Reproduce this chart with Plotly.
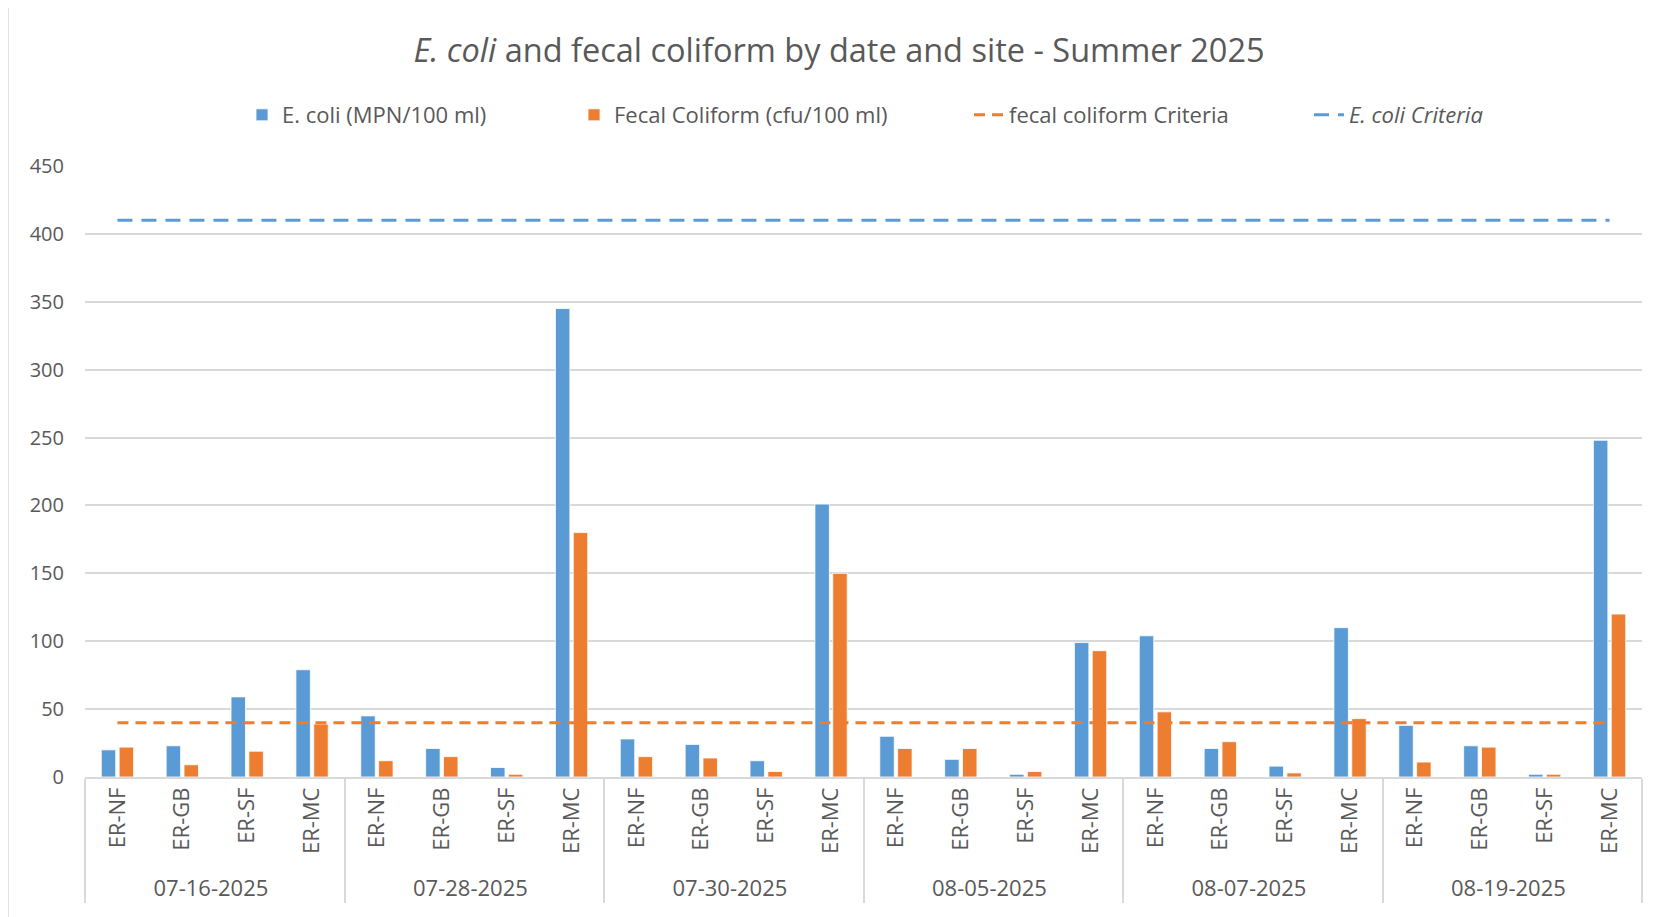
import plotly.graph_objects as go

dates = ["07-16-2025", "07-28-2025", "07-30-2025", "08-05-2025", "08-07-2025", "08-19-2025"]
sites = ["ER-NF", "ER-GB", "ER-SF", "ER-MC"]

ecoli = [20, 23, 59, 79,
         45, 21, 7, 345,
         28, 24, 12, 201,
         30, 13, 2, 99,
         104, 21, 8, 110,
         38, 23, 2, 248]
fecal = [22, 9, 19, 39,
         12, 15, 2, 180,
         15, 14, 4, 150,
         21, 21, 4, 93,
         48, 26, 3, 43,
         11, 22, 2, 120]

FECAL_CRITERIA = 40
ECOLI_CRITERIA = 410

y_ticks = [0, 50, 100, 150, 200, 250, 300, 350, 400, 450]

outer = [d for d in dates for _ in sites]
inner = [s for _ in dates for s in sites]
x = [outer, inner]

BLUE = "#5B9BD5"
ORANGE = "#ED7D31"
TXT = "#595959"
GRID = "#D9D9D9"
FONT = "Open Sans"

W, H = 1665, 917
OFF = 8  # the page body adds an 8px margin; positions below are page pixels
PLOT_L, PLOT_R, PLOT_T, PLOT_B = 85, 1642, 166, 777
ML = PLOT_L - OFF
MT = PLOT_T - OFF
MR = W - (PLOT_R - OFF)
MB = H - (PLOT_B - OFF)
PW = W - ML - MR
PH = H - MT - MB


def px_x(px):
    return (px - PLOT_L) / PW


def px_y(py):
    return (PLOT_B - py) / PH


fig = go.Figure()
fig.add_trace(go.Bar(x=x, y=ecoli, name="E. coli (MPN/100 ml)", legend="legend",
                     marker=dict(color=BLUE, line=dict(color="white", width=0.8))))
fig.add_trace(go.Bar(x=x, y=fecal, name="Fecal Coliform (cfu/100 ml)", legend="legend2",
                     marker=dict(color=ORANGE, line=dict(color="white", width=0.8))))
fig.add_trace(go.Scatter(x=x, y=[FECAL_CRITERIA] * len(inner), mode="lines",
                         name="fecal coliform Criteria", legend="legend3",
                         line=dict(color=ORANGE, width=3, dash="11px,7px")))
fig.add_trace(go.Scatter(x=x, y=[ECOLI_CRITERIA] * len(inner), mode="lines",
                         name="<i>E. coli Criteria</i>", legend="legend4",
                         line=dict(color=BLUE, width=3, dash="15px,9px")))

leg_font = dict(family=FONT, size=22, color=TXT)
leg_common = dict(orientation="h", xanchor="left", y=px_y(115), yanchor="middle",
                  font=leg_font, bgcolor="rgba(0,0,0,0)")
text_starts = [282, 614, 1009, 1349]

fig.update_layout(
    width=W, height=H,
    margin=dict(l=ML, r=MR, t=MT, b=MB, autoexpand=False),
    paper_bgcolor="white", plot_bgcolor="white",
    font=dict(family=FONT, color=TXT, size=20),
    barmode="group", bargap=0.45, bargroupgap=0.19,
    title=dict(text="<i>E. coli</i> and fecal coliform by date and site - Summer 2025",
               x=(839 - OFF) / W, xanchor="center", y=1 - (51 - OFF) / H, yanchor="middle",
               font=dict(family=FONT, size=32.5, color=TXT)),
    legend=dict(x=px_x(text_starts[0] - 40), **leg_common),
    legend2=dict(x=px_x(text_starts[1] - 40), **leg_common),
    legend3=dict(x=px_x(text_starts[2] - 40), **leg_common),
    legend4=dict(x=px_x(text_starts[3] - 40), **leg_common),
    showlegend=True,
)
fig.update_yaxes(range=[0, 450], tickvals=y_ticks, showgrid=True, gridcolor=GRID, gridwidth=1.5,
                 zeroline=False, showline=False, ticks="", ticklabelstandoff=20,
                 tickfont=dict(family=FONT, size=20, color=TXT))
fig.update_xaxes(type="multicategory", showline=True, linecolor=GRID, linewidth=1.5,
                 ticks="", tickangle=-90, showdividers=True, dividercolor=GRID, dividerwidth=1.5,
                 tickfont=dict(family=FONT, size=22, color=TXT))

# chart-area border
fig.add_shape(type="rect", xref="paper", yref="paper",
              x0=px_x(8), x1=1.2, y0=-0.5, y1=px_y(6),
              line=dict(color=GRID, width=1.5), layer="below")

fig.write_html("out.html")
